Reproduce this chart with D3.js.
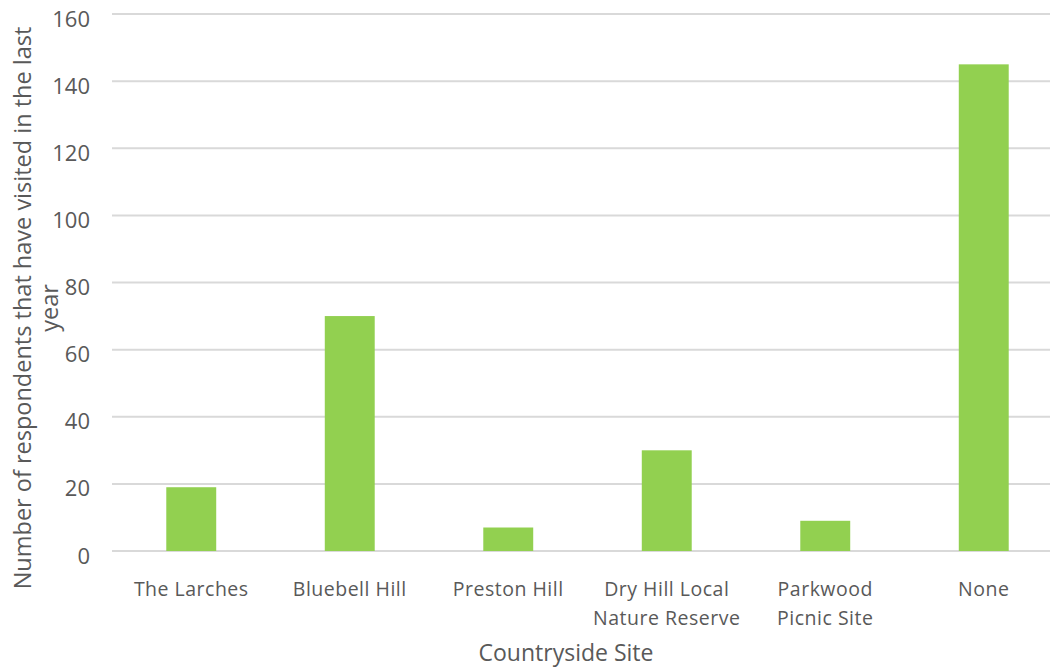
<!DOCTYPE html>
<html><head><meta charset="utf-8">
<script src="https://cdn.jsdelivr.net/npm/d3@7"></script>
<style>body{margin:0;background:#fff}svg text{font-family:"Open Sans",sans-serif;fill:#595959}</style>
</head><body>
<svg id="c" width="1050" height="668"></svg>
<script>
const categories = [["The Larches"],["Bluebell Hill"],["Preston Hill"],["Dry Hill Local","Nature Reserve"],["Parkwood","Picnic Site"],["None"]];
const values = [19, 70, 7, 30, 9, 145];
const yTicks = [0,20,40,60,80,100,120,140,160];
const yTitle = ["Number of respondents that have visited in the last","year"];
const xTitle = "Countryside Site";

const svg = d3.select("#c");
const pL = 112, pR = 1063, pT = 14, pB = 551;
const x = d3.scaleBand().domain(d3.range(categories.length)).range([pL,pR]).paddingInner(0.685).paddingOuter(0.3425);
const y = d3.scaleLinear().domain([0,160]).range([pB,pT]);

svg.append("g").selectAll("line").data(yTicks).join("line")
  .attr("x1",pL).attr("x2",1050).attr("y1",d=>y(d)).attr("y2",d=>y(d))
  .attr("stroke","#d9d9d9").attr("stroke-width",2);

svg.append("g").selectAll("text").data(yTicks).join("text")
  .attr("x",90).attr("y",d=>y(d)+12.5).attr("text-anchor","end")
  .attr("font-size",22).text(d=>d);

svg.append("g").selectAll("rect").data(values).join("rect")
  .attr("x",(d,i)=>x(i)).attr("width",x.bandwidth())
  .attr("y",d=>y(d)).attr("height",d=>y(0)-y(d)).attr("fill","#92d050");

const cl = svg.append("g").selectAll("text").data(categories).join("text")
  .attr("x",(d,i)=>x(i)+x.bandwidth()/2).attr("y",596).attr("text-anchor","middle")
  .attr("font-size",19.5).attr("letter-spacing",0.5);
cl.selectAll("tspan").data(d=>d).join("tspan")
  .attr("x",function(){return this.parentNode.getAttribute("x");})
  .attr("dy",(d,i)=>i?29:0).text(d=>d);

svg.append("text").attr("x",566).attr("y",661).attr("text-anchor","middle").attr("font-size",23).text(xTitle);

const yt = svg.append("text").attr("transform","translate(31,308) rotate(-90)").attr("text-anchor","middle").attr("font-size",23.5);
yt.selectAll("tspan").data(yTitle).join("tspan").attr("x",0).attr("dy",(d,i)=>i?27:0).text(d=>d);
</script>
</body></html>
